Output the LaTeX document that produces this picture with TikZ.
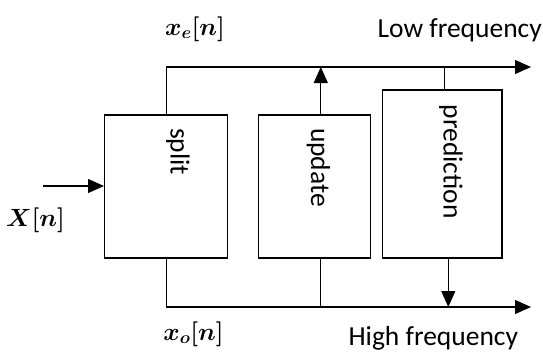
\documentclass[tikz,border=0pt]{standalone}
\usepackage{fontspec}
\usepackage{bm}
\setmainfont{Carlito}
\usetikzlibrary{arrows.meta}
\begin{document}
\begin{tikzpicture}[x=1pt,y=-1pt,
  line width=1.2pt,
  blk/.style={draw, line width=1.2pt, inner sep=0pt},
  lbl/.style={font=\fontsize{27.5}{30}\selectfont, inner sep=0pt},
  mlbl/.style={font=\fontsize{27}{30}\selectfont, inner sep=0pt},
  arr/.style={-{Triangle[length=16pt,width=14pt]}}]
\clip (0,0) rectangle (543,353);
% blocks
\node[blk, minimum width=123pt, minimum height=143pt] (split) at (166.1,186.5) {};
\node[blk, minimum width=112pt, minimum height=143pt] (upd) at (314.5,186.5) {};
\node[blk, minimum width=119.5pt, minimum height=168pt] (pred) at (442.2,174) {};
% rotated texts
\node[lbl, rotate=-90] (tsplit) at (178,151.7) {split};
\node[lbl, rotate=-90] (tupd) at (318.5,167.5) {update};
\node[lbl, rotate=-90] (tpred) at (451,161.7) {prediction};
% coordinates
\coordinate (tl) at (166.1,67);
\coordinate (tr) at (531,67);
\coordinate (bl) at (166.1,307);
\coordinate (br) at (531,307);
\coordinate (uT) at (320.8,67);
\coordinate (uB) at (320.8,307);
\coordinate (pT) at (444.3,67);
\coordinate (pB) at (448.3,307);
\coordinate (in) at (42.7,186);
% lines
\draw[arr] (split.north) -- (tl) -- (tr);
\draw[arr] (split.south) -- (bl) -- (br);
\draw[arr] (uT |- upd.north) -- (uT);
\draw (uB |- upd.south) -- (uB);
\draw (pT) -- (pT |- pred.north);
\draw[arr] (pB |- pred.south) -- (pB);
\draw[arr] (in) -- (in -| split.west);
% labels
\node[lbl, anchor=base west] (low) at (377,37.5) {Low frequency};
\node[lbl, anchor=base west] (high) at (348,345) {High frequency};
\node[mlbl] (xe) at (195,29) {$\bm{x_e[n]}$};
\node[mlbl] (xo) at (193.5,334) {$\bm{x_o[n]}$};
\node[mlbl, font=\fontsize{23}{26}\selectfont] (X) at (35.5,220) {$\bm{X[n]}$};
\end{tikzpicture}
\end{document}
